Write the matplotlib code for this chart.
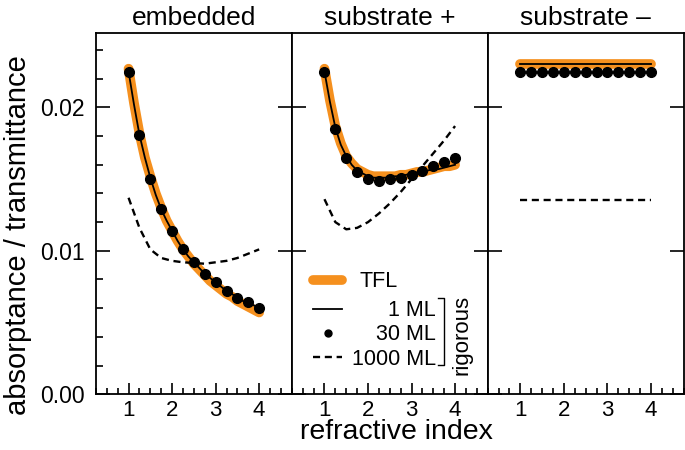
import matplotlib
matplotlib.use("Agg")
import matplotlib.pyplot as plt
from matplotlib.lines import Line2D
from matplotlib.ticker import MultipleLocator, FormatStrFormatter

plt.rcParams['font.family'] = ['Liberation Sans', 'DejaVu Sans']

# refractive index grids
n_fine = [1.0, 1.125, 1.25, 1.375, 1.5, 1.625, 1.75, 1.875, 2.0, 2.125, 2.25, 2.375, 2.5,
          2.625, 2.75, 2.875, 3.0, 3.125, 3.25, 3.375, 3.5, 3.625, 3.75, 3.875, 4.0]
n_pts = [1.0, 1.25, 1.5, 1.75, 2.0, 2.25, 2.5, 2.75, 3.0, 3.25, 3.5, 3.75, 4.0]

# embedded
emb_tfl = [0.0227, 0.0203, 0.0182, 0.0165, 0.0152, 0.0140, 0.0130, 0.0121, 0.0114, 0.0107,
           0.0101, 0.0096, 0.0091, 0.0087, 0.0083, 0.0079, 0.0076, 0.0073, 0.0070, 0.0068,
           0.0065, 0.0063, 0.0061, 0.0059, 0.0057]
emb_1ml = [0.0225, 0.0202, 0.0181, 0.0165, 0.0151, 0.0139, 0.0129, 0.0121, 0.0114, 0.0107,
           0.0101, 0.0096, 0.0092, 0.0088, 0.0084, 0.0081, 0.0078, 0.0075, 0.0072, 0.0070,
           0.0067, 0.0065, 0.0064, 0.0062, 0.0060]
emb_30ml = [0.0225, 0.0181, 0.0150, 0.0129, 0.0114, 0.0101, 0.0092, 0.0084, 0.0078, 0.0072,
            0.0067, 0.0064, 0.0060]
emb_1000ml = [0.0137, 0.0116, 0.0101, 0.0095, 0.0093, 0.0092, 0.00915, 0.0091, 0.0092,
              0.0093, 0.0095, 0.0098, 0.0101]

# substrate +
sp_tfl = [0.0227, 0.0205, 0.0187, 0.0175, 0.0166, 0.0161, 0.0157, 0.0155, 0.0153, 0.0152,
          0.0152, 0.0152, 0.0152, 0.0152, 0.0153, 0.0153, 0.0154, 0.0155, 0.0155, 0.0156,
          0.0157, 0.0158, 0.0159, 0.0159, 0.0160]
sp_1ml = [0.0225, 0.0204, 0.0186, 0.0174, 0.0166, 0.0160, 0.0156, 0.0154, 0.0152, 0.0151,
          0.0151, 0.0151, 0.0151, 0.0152, 0.0152, 0.0153, 0.0154, 0.0154, 0.0155, 0.0156,
          0.0157, 0.0157, 0.0158, 0.0159, 0.0160]
sp_30ml = [0.0225, 0.0185, 0.0165, 0.0155, 0.0150, 0.0149, 0.0150, 0.0151, 0.0153, 0.0156,
           0.0159, 0.0162, 0.0165]
sp_1000ml = [0.0136, 0.0120, 0.0115, 0.0116, 0.0120, 0.0126, 0.0133, 0.0141, 0.0150, 0.0159,
             0.0168, 0.0177, 0.0187]

# substrate -
sm_tfl = [0.0230] * 13
sm_1ml = [0.0230] * 13
sm_30ml = [0.0225] * 13
sm_1000ml = [0.01355] * 13

titles = ['embedded', 'substrate +', 'substrate \u2013']
orange = '#f5901e'

fig, axes = plt.subplots(1, 3, sharey=True, figsize=(6.85, 4.5), dpi=100)
fig.subplots_adjust(left=0.140, right=0.998, top=0.927, bottom=0.124, wspace=0)

panels = [(emb_tfl, emb_1ml, emb_30ml, emb_1000ml, n_fine),
          (sp_tfl, sp_1ml, sp_30ml, sp_1000ml, n_fine),
          (sm_tfl, sm_1ml, sm_30ml, sm_1000ml, n_pts)]

for i, (ax, (tfl, ml1, ml30, ml1000, nx)) in enumerate(zip(axes, panels)):
    ax.plot(nx, tfl, color=orange, lw=7, solid_capstyle='round', zorder=1)
    ax.plot(nx, ml1, color='k', lw=1.3, zorder=2)
    ax.plot(n_pts, ml1000, color='k', lw=1.7, dashes=(3, 2), zorder=3)
    ax.plot(n_pts, ml30, 'o', color='k', ms=7, zorder=4)
    ax.set_title(titles[i], fontsize=19, pad=6)
    ax.set_xlim(0.25, 4.75)
    ax.set_ylim(0, 0.0252)
    ax.xaxis.set_major_locator(MultipleLocator(1))
    ax.xaxis.set_minor_locator(MultipleLocator(0.25))
    ax.yaxis.set_major_locator(MultipleLocator(0.01))
    ax.yaxis.set_minor_locator(MultipleLocator(0.002))
    ax.yaxis.set_major_formatter(FormatStrFormatter('%.2f'))
    ax.tick_params(axis='x', which='major', direction='in', length=8, width=1.2,
                   labelsize=16, pad=4, top=False)
    ax.tick_params(axis='x', which='minor', direction='in', length=4, width=1.2, top=False)
    ax.tick_params(axis='y', which='major', direction='in', length=10, width=1.2,
                   left=True, right=True, labelsize=16.5, pad=8)
    ax.tick_params(axis='y', which='minor', direction='in', length=5, width=1.2,
                   left=(i == 0), right=False)
    for s in ax.spines.values():
        s.set_linewidth(1.3)

axes[0].set_ylabel('absorptance / transmittance', fontsize=21, labelpad=6)
axes[0].yaxis.label.set_y(0.44)
axes[1].set_xlabel('refractive index', fontsize=20.5, labelpad=-1)
axes[1].xaxis.label.set_x(0.536)

# legend in the middle panel
ax = axes[1]
h_tfl = Line2D([], [], color=orange, lw=7, solid_capstyle='round')
leg1 = ax.legend([h_tfl], ['TFL'], loc='upper left', bbox_to_anchor=(0.11, 0.34),
                 frameon=False, borderpad=0, borderaxespad=0, handlelength=1.35,
                 handletextpad=0.8, fontsize=15.5)
ax.add_artist(leg1)

h1 = Line2D([], [], color='k', lw=1.3)
h30 = Line2D([], [], color='k', ls='none', marker='o', ms=5)
h1000 = Line2D([], [], color='k', lw=1.7, dashes=(3, 2))
leg2 = ax.legend([h1, h30, h1000], ['', '', ''], loc='upper left',
                 bbox_to_anchor=(0.11, 0.26), frameon=False, borderpad=0,
                 borderaxespad=0, handlelength=1.35, handletextpad=0, fontsize=15.5,
                 labelspacing=0.15)
ax.add_artist(leg2)

blank = Line2D([], [], ls='none')
leg3 = ax.legend([blank] * 3, ['1 ML', '30 ML', '1000 ML'], loc='upper right',
                 bbox_to_anchor=(0.735, 0.26), frameon=False, borderpad=0,
                 borderaxespad=0, handlelength=0, handletextpad=0, fontsize=15.5,
                 labelspacing=0.15, markerfirst=False)

ax.plot([0.745, 0.775, 0.775, 0.745], [0.266, 0.266, 0.080, 0.080], color='k', lw=1,
        transform=ax.transAxes, clip_on=False)
ax.text(0.87, 0.165, 'rigorous', rotation=90, fontsize=16, ha='center', va='center',
        transform=ax.transAxes)

fig.savefig('out.png', dpi=100)
